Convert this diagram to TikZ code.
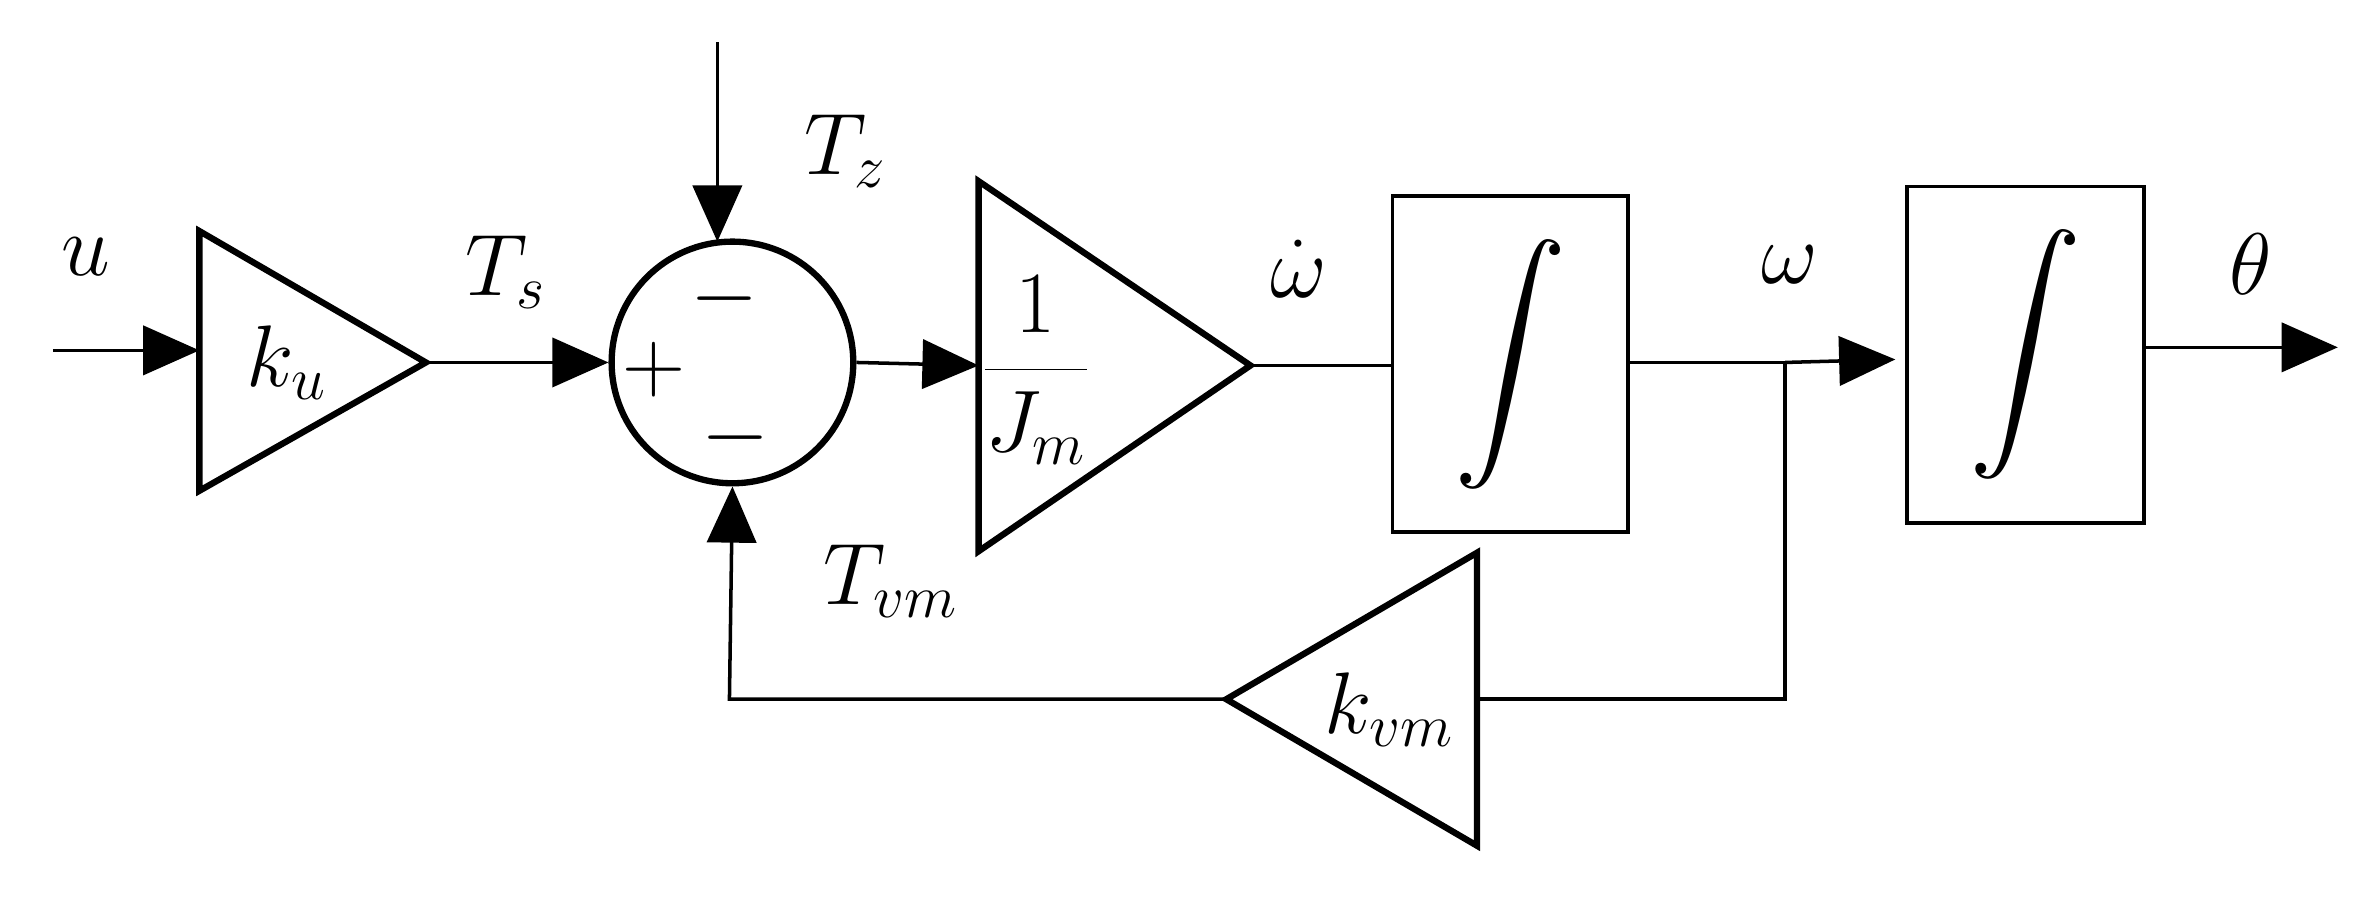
\documentclass[tikz,border=0pt]{standalone}
\usepackage{graphicx}
\usetikzlibrary{arrows.meta}
\begin{document}
\begin{tikzpicture}[x=0.0151cm,y=-0.0151cm,
  ln/.style={line width=1pt},
  arr/.style={ln,-{Triangle[length=16pt,width=14pt]}},
  blk/.style={line width=1.8pt},
  box/.style={line width=1.1pt},
  lbl/.style={font=\fontsize{24}{28}\selectfont}]
\useasboundingbox (0,0) rectangle (1568,595);
% ku triangle
\draw[blk] (132,153) -- (282,240) -- (132,325) -- cycle;
\coordinate (kuin) at (132,232); \coordinate (kuout) at (282,240);
\node[lbl] (ku) at (190,240) {$k_u$};
% sum
\node[circle,draw,blk,minimum size=160*0.0151cm,inner sep=0] (sum) at (485,240) {};
\node[lbl] at (433,245) {$+$};
\node[lbl] at (480,198) {$-$};
\node[lbl] at (487,290) {$-$};
% 1/Jm
\draw[blk] (648,120) -- (828,242) -- (648,365) -- cycle;
\coordinate (jin) at (648,242); \coordinate (jout) at (828,242);
\node[lbl] (jm) at (686,245) {$\displaystyle\frac{1}{J_m}$};
% integrators
\node[draw,box,minimum width=156*0.0151cm,minimum height=222*0.0151cm] (i1) at (1000,241) {\scalebox{3.2}{$\displaystyle\int$}};
\node[draw,box,minimum width=157*0.0151cm,minimum height=223*0.0151cm] (i2) at (1341,235) {\scalebox{3.2}{$\displaystyle\int$}};
% kvm
\draw[blk] (978,366) -- (812,463) -- (978,560) -- cycle;
\coordinate (kvin) at (978,463); \coordinate (kvout) at (812,463);
\node[lbl] (kvm) at (920,470) {$k_{vm}$};
% connectors
\coordinate (u0) at (35,232);
\draw[arr] (u0) -- (kuin);
\draw[arr] (kuout) -- (sum.west);
\coordinate (tz0) at (475,28);
\draw[arr] (tz0) -- (475,160);
\draw[arr] (sum.east) -- (jin);
\draw[ln] (jout) -- (i1.west |- jout);
\coordinate (br) at (1182,240);
\draw[ln] (1078,240) -- (br);
\draw[arr] (br) -- (1255,238);
\coordinate (th) at (1548,230);
\draw[arr] (1420,230) -- (th);
\draw[ln] (br) -- (1182,463) -- (kvin);
\draw[arr] (kvout) -- (483,463) -- (sum.south);
% labels
\node[lbl] (lu) at (57,170) {$u$};
\node[lbl] (lts) at (335,180) {$T_s$};
\node[lbl] (ltz) at (560,100) {$T_z$};
\node[lbl] (lwd) at (860,178) {$\dot\omega$};
\node[lbl] (lw) at (1185,175) {$\omega$};
\node[lbl] (lth) at (1490,175) {$\theta$};
\node[lbl] (ltvm) at (590,385) {$T_{vm}$};
\end{tikzpicture}
\end{document}
